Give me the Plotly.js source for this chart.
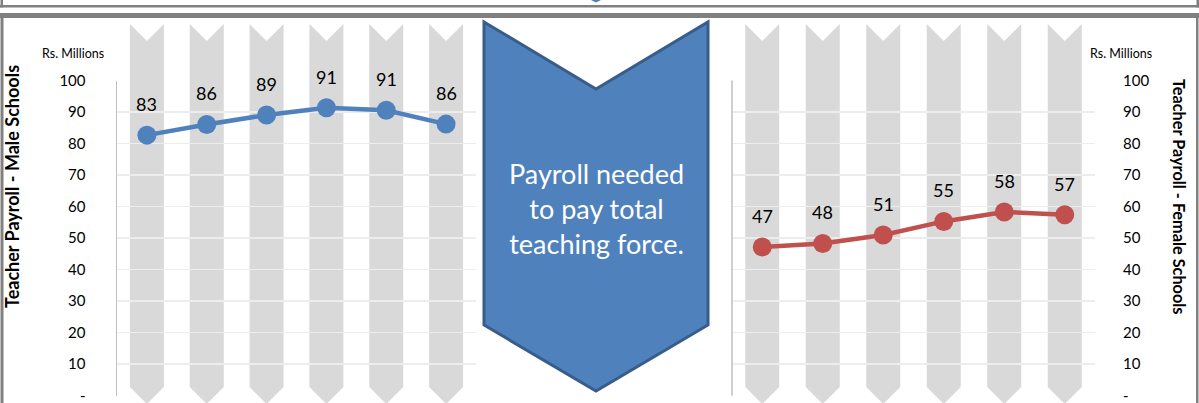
<!DOCTYPE html>
<html>
<head>
<meta charset="utf-8">
<script src="https://cdn.plot.ly/plotly-3.0.1.min.js"></script>
<style>html,body{margin:0;padding:0;background:#fff;}#chart{width:1199px;height:403px;}</style>
</head>
<body>
<div id="chart"></div>
<script>
// ---- data ----
const categories = ['Year 1', 'Year 2', 'Year 3', 'Year 4', 'Year 5', 'Year 6'];
const maleValues = [82.7, 86.1, 89.1, 91.4, 90.6, 86.2];
const femaleValues = [47.2, 48.3, 51.0, 55.3, 58.3, 57.4];
const tickVals = [0, 10, 20, 30, 40, 50, 60, 70, 80, 90, 100];
const tickText = ['-', '10', '20', '30', '40', '50', '60', '70', '80', '90', '100'];
const leftTitle = 'Teacher Payroll - Male Schools';
const rightTitle = 'Teacher Payroll - Female Schools';
const unitLabel = 'Rs. Millions';
const centerText = 'Payroll needed<br>to pay total<br>teaching force.';

// ---- layout geometry (pixels) ----
const W = 1199, H = 403;
const px = x => x / W;
const py = y => 1 - y / H;
const plotTop = 80.5, plotBottom = 395.7;
const leftDom = [117, 476];
const rightDom = [732, 1095];
const BLUE = '#4F81BD', RED = '#C0504D', COL = '#D9D9D9';
const FONT = 'Lato, "Open Sans", sans-serif';

function columnShapes(dom) {
  const n = categories.length;
  const step = (dom[1] - dom[0]) / n;
  const hw = 17, top = 24, notch = 17, sideEnd = 387, tip = 404;
  return categories.map((c, i) => {
    const cx = dom[0] + (i + 0.5) * step;
    const pts = [[cx - hw, top], [cx, top + notch], [cx + hw, top], [cx + hw, sideEnd], [cx, tip], [cx - hw, sideEnd]];
    return {
      type: 'path', xref: 'paper', yref: 'paper', layer: 'below',
      path: 'M' + pts.map(p => px(p[0]) + ',' + py(p[1])).join(' L') + ' Z',
      fillcolor: COL, line: {width: 0}
    };
  });
}

function rect(x0, y0, x1, y1, color) {
  return {type: 'rect', xref: 'paper', yref: 'paper', layer: 'below',
    x0: px(x0), x1: px(x1), y0: py(y1), y1: py(y0), fillcolor: color, line: {width: 0}};
}

const chevronPts = [[484, 22], [596, 89], [708, 22], [708, 325], [596, 391], [484, 325]];
const shapes = [].concat(
  columnShapes(leftDom),
  columnShapes(rightDom),
  [
    // frame lines
    rect(0, 5, W, 7.5, '#808080'),
    rect(0.5, 0, 3, 7.5, '#808080'),
    rect(1196.5, 0, 1199, 7.5, '#808080'),
    rect(0, 13, W, 18, '#808080'),
    rect(0.5, 13, 3.5, H, '#808080'),
    rect(1196, 13, 1198.5, H, '#808080'),
    // tip of a shape above
    {type: 'path', xref: 'paper', yref: 'paper', layer: 'below',
      path: 'M' + px(591) + ',' + py(0) + ' L' + px(601) + ',' + py(0) + ' L' + px(596) + ',' + py(2.5) + ' Z',
      fillcolor: BLUE, line: {width: 0}},
    // center chevron
    {type: 'path', xref: 'paper', yref: 'paper', layer: 'below',
      path: 'M' + chevronPts.map(p => px(p[0]) + ',' + py(p[1])).join(' L') + ' Z',
      fillcolor: BLUE, line: {color: '#385D8A', width: 3}},
    // left axis line of the right chart
    {type: 'line', xref: 'x2 domain', yref: 'y2 domain', x0: 0, x1: 0, y0: 0, y1: 1,
      line: {color: '#BFBFBF', width: 1.5}}
  ]
);

const traces = [
  {x: categories, y: maleValues, xaxis: 'x', yaxis: 'y', type: 'scatter', mode: 'lines+markers',
    line: {color: BLUE, width: 4.5}, marker: {color: BLUE, size: 19}, hoverinfo: 'skip'},
  {x: categories, y: femaleValues, xaxis: 'x2', yaxis: 'y2', type: 'scatter', mode: 'lines+markers',
    line: {color: RED, width: 4.5}, marker: {color: RED, size: 19}, hoverinfo: 'skip'}
];

const labelAnn = (vals, xa, ya) => vals.map((v, i) => ({
  x: categories[i], y: v, xref: xa, yref: ya, text: String(Math.round(v)),
  xanchor: 'center', yanchor: 'middle',
  showarrow: false, yshift: 31, font: {family: FONT, size: 18, color: '#000'}
}));

const paperAnn = (x, y, text, size, color, angle) => ({
  xref: 'paper', yref: 'paper', x: px(x), y: py(y), text: text, showarrow: false,
  xanchor: 'center', yanchor: 'middle', textangle: angle || 0,
  font: {family: FONT, size: size, color: color}
});

const annotations = [].concat(
  labelAnn(maleValues, 'x', 'y'),
  labelAnn(femaleValues, 'x2', 'y2'),
  [
    paperAnn(73, 53, unitLabel, 12.5, '#000'),
    paperAnn(1121, 53, unitLabel, 12.5, '#000'),
    paperAnn(12, 187, '<b>' + leftTitle + '</b>', 18, '#000', -90),
    paperAnn(1180, 197, '<b>' + rightTitle + '</b>', 16.3, '#000', 90),
    paperAnn(596, 208, centerText, 27, '#fff')
  ]
);

const yBase = {
  range: [-0.05, 100.05], tickmode: 'array', tickvals: tickVals, ticktext: tickText,
  showgrid: true, gridcolor: '#EDEDED', gridwidth: 1.5, zeroline: false,
  ticks: '', ticklabelstandoff: 27, ticklabeloverflow: 'allow',
  tickfont: {family: FONT, size: 15, color: '#000'},
  domain: [py(plotBottom), py(plotTop)], fixedrange: true
};
const xBase = {type: 'category', range: [-0.5, categories.length - 0.5], showticklabels: false,
  showgrid: false, zeroline: false, ticks: '', fixedrange: true};

const layout = {
  width: W, height: H, margin: {l: 0, r: 0, t: 0, b: 0},
  paper_bgcolor: '#fff', plot_bgcolor: 'rgba(0,0,0,0)', showlegend: false,
  xaxis: Object.assign({}, xBase, {domain: [px(leftDom[0]), px(leftDom[1])], anchor: 'y'}),
  yaxis: Object.assign({}, yBase, {anchor: 'x', side: 'left', showline: true, linecolor: '#BFBFBF', linewidth: 1.5}),
  xaxis2: Object.assign({}, xBase, {domain: [px(rightDom[0]), px(rightDom[1])], anchor: 'y2'}),
  yaxis2: Object.assign({}, yBase, {anchor: 'x2', side: 'right', showline: false}),
  shapes: shapes,
  annotations: annotations
};

Plotly.newPlot('chart', traces, layout, {displayModeBar: false, staticPlot: true});
</script>
</body>
</html>
